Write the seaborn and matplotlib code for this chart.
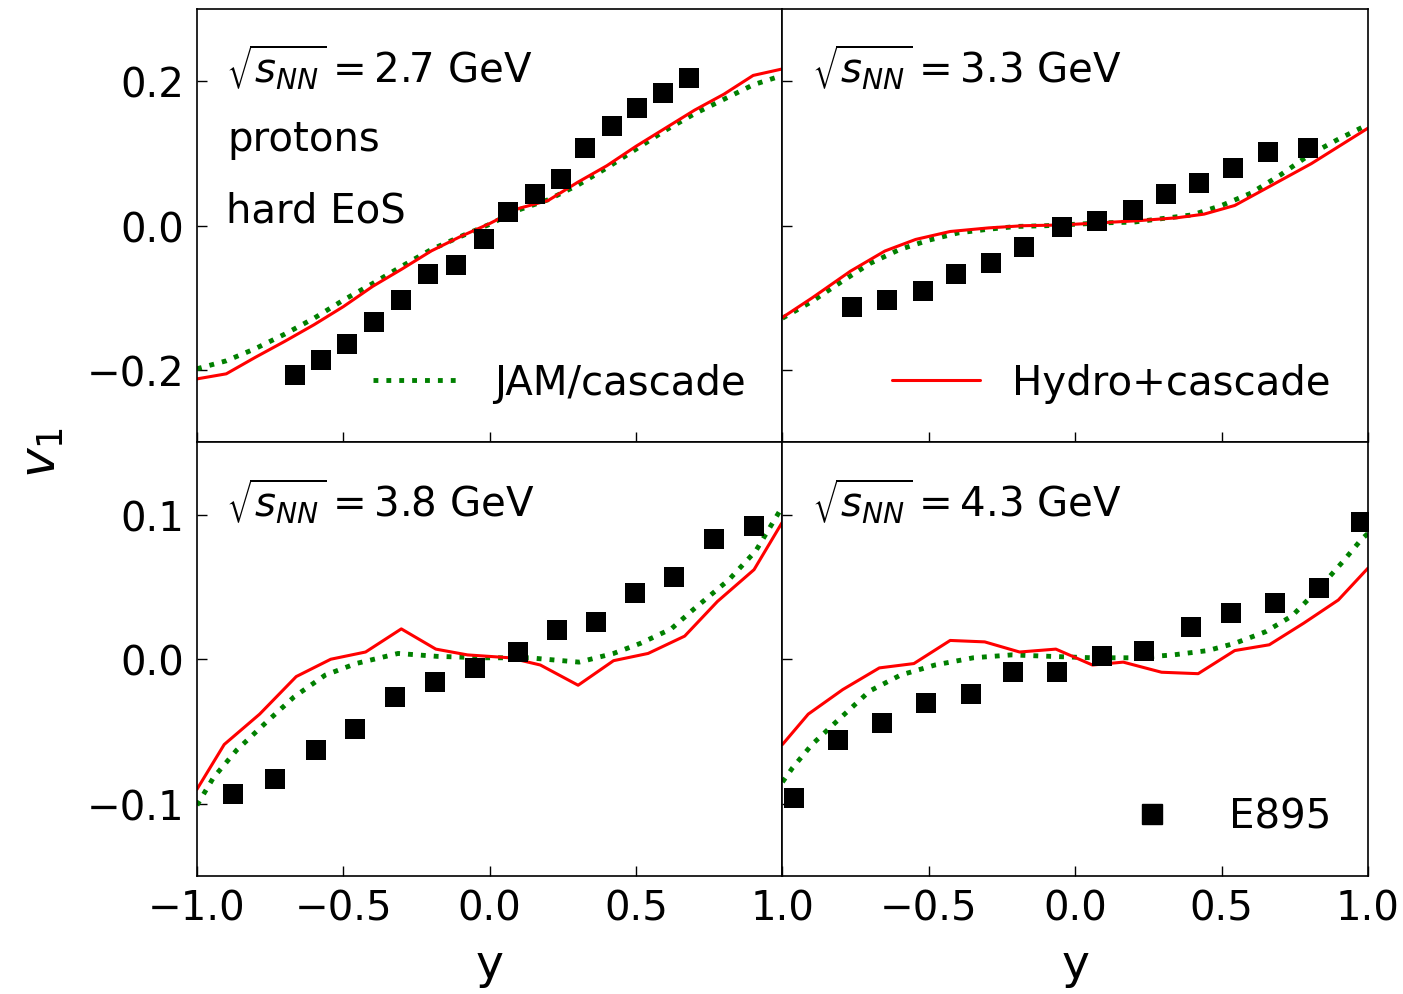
import numpy as np
import pandas as pd
import matplotlib
matplotlib.use("Agg")
import matplotlib.pyplot as plt
import seaborn as sns
from matplotlib.lines import Line2D

sns.set_style("ticks")
plt.rcParams['font.family'] = ['DejaVu Sans']
plt.rcParams['mathtext.fontset'] = 'dejavusans'
for k in ['text.color', 'axes.labelcolor', 'xtick.color', 'ytick.color', 'axes.edgecolor']:
    plt.rcParams[k] = 'black'

energies = ["2.7", "3.3", "3.8", "4.3"]

# ---- E895 data ----
e895_x_27 = [-0.665, -0.576, -0.486, -0.394, -0.302, -0.212, -0.116, -0.021, 0.063, 0.154, 0.243, 0.327, 0.418, 0.502, 0.591, 0.682]
e895_v_27 = [-0.207, -0.186, -0.164, -0.133, -0.103, -0.067, -0.054, -0.018, 0.019, 0.044, 0.064, 0.107, 0.138, 0.163, 0.184, 0.205]
e895_x_33 = [-0.764, -0.643, -0.521, -0.407, -0.287, -0.175, -0.046, 0.076, 0.197, 0.311, 0.424, 0.538, 0.659, 0.794]
e895_v_33 = [-0.113, -0.103, -0.091, -0.067, -0.051, -0.030, -0.002, 0.007, 0.022, 0.044, 0.059, 0.080, 0.102, 0.107]
e895_x_38 = [-0.878, -0.733, -0.595, -0.460, -0.323, -0.188, -0.050, 0.095, 0.229, 0.364, 0.495, 0.631, 0.767, 0.904]
e895_v_38 = [-0.093, -0.083, -0.063, -0.048, -0.026, -0.016, -0.006, 0.005, 0.020, 0.026, 0.046, 0.057, 0.083, 0.092]
e895_x_43 = [-0.962, -0.811, -0.659, -0.509, -0.357, -0.213, -0.062, 0.092, 0.236, 0.394, 0.531, 0.682, 0.833, 0.978]
e895_v_43 = [-0.096, -0.056, -0.044, -0.030, -0.024, -0.009, -0.009, 0.002, 0.006, 0.022, 0.032, 0.039, 0.049, 0.095]

# ---- JAM/cascade (green dotted) ----
jam_x_27 = [-1.0, -0.9, -0.8, -0.7, -0.6, -0.5, -0.4, -0.3, -0.2, -0.1, 0.0, 0.1, 0.2, 0.3, 0.4, 0.5, 0.6, 0.7, 0.8, 0.9, 1.0]
jam_v_27 = [-0.198, -0.187, -0.170, -0.150, -0.128, -0.103, -0.080, -0.056, -0.033, -0.015, 0.002, 0.022, 0.036, 0.056, 0.080, 0.106, 0.132, 0.155, 0.175, 0.195, 0.208]
jam_x_33 = [-1.0, -0.9, -0.8, -0.7, -0.6, -0.5, -0.4, -0.3, -0.2, -0.1, 0.0, 0.1, 0.2, 0.3, 0.4, 0.5, 0.6, 0.7, 0.8, 0.9, 1.0]
jam_v_33 = [-0.128, -0.105, -0.078, -0.052, -0.033, -0.020, -0.010, -0.005, -0.001, 0.000, 0.002, 0.004, 0.005, 0.010, 0.015, 0.028, 0.045, 0.070, 0.098, 0.120, 0.140]
jam_x_38 = [-1.0, -0.944, -0.865, -0.760, -0.668, -0.562, -0.457, -0.313, -0.181, -0.024, 0.134, 0.305, 0.423, 0.515, 0.620, 0.699, 0.817, 0.909, 0.995]
jam_v_38 = [-0.101, -0.082, -0.063, -0.043, -0.026, -0.011, -0.003, 0.004, 0.002, 0.001, 0.001, -0.002, 0.004, 0.011, 0.021, 0.035, 0.055, 0.075, 0.104]
jam_x_43 = [-1.0, -0.965, -0.899, -0.820, -0.702, -0.597, -0.479, -0.348, -0.217, -0.085, 0.059, 0.203, 0.335, 0.453, 0.545, 0.650, 0.741, 0.833, 0.912, 0.978, 1.0]
jam_v_43 = [-0.085, -0.075, -0.059, -0.044, -0.022, -0.011, -0.004, 0.001, 0.003, 0.002, 0.001, 0.001, 0.003, 0.006, 0.011, 0.019, 0.030, 0.049, 0.067, 0.083, 0.087]

# ---- Hydro+cascade (red solid) ----
hyd_x_27 = [-1.0, -0.9, -0.8, -0.7, -0.6, -0.5, -0.4, -0.3, -0.2, -0.1, 0.0, 0.1, 0.2, 0.3, 0.4, 0.5, 0.6, 0.7, 0.8, 0.9, 1.0]
hyd_v_27 = [-0.212, -0.205, -0.182, -0.160, -0.137, -0.112, -0.084, -0.060, -0.035, -0.015, 0.003, 0.024, 0.035, 0.060, 0.083, 0.110, 0.135, 0.160, 0.182, 0.208, 0.217]
hyd_x_33 = [-1.0, -0.899, -0.768, -0.650, -0.545, -0.427, -0.295, -0.177, -0.046, 0.085, 0.217, 0.348, 0.440, 0.545, 0.676, 0.807, 1.0]
hyd_v_33 = [-0.127, -0.100, -0.063, -0.035, -0.019, -0.008, -0.003, 0.000, 0.001, 0.004, 0.007, 0.011, 0.016, 0.028, 0.057, 0.086, 0.135]
hyd_x_38 = [-1.0, -0.907, -0.786, -0.661, -0.543, -0.424, -0.302, -0.184, -0.076, 0.068, 0.173, 0.302, 0.423, 0.541, 0.666, 0.778, 0.903, 1.0]
hyd_v_38 = [-0.090, -0.059, -0.038, -0.012, -0.000, 0.005, 0.021, 0.007, 0.003, 0.001, -0.004, -0.018, -0.001, 0.004, 0.016, 0.040, 0.062, 0.095]
hyd_x_43 = [-1.0, -0.912, -0.794, -0.669, -0.551, -0.427, -0.309, -0.190, -0.066, 0.059, 0.164, 0.295, 0.420, 0.545, 0.663, 0.781, 0.899, 1.0]
hyd_v_43 = [-0.059, -0.038, -0.021, -0.006, -0.003, 0.013, 0.012, 0.005, 0.007, -0.004, -0.002, -0.009, -0.010, 0.006, 0.010, 0.025, 0.041, 0.063]

panels = [
    (e895_x_27, e895_v_27, jam_x_27, jam_v_27, hyd_x_27, hyd_v_27),
    (e895_x_33, e895_v_33, jam_x_33, jam_v_33, hyd_x_33, hyd_v_33),
    (e895_x_38, e895_v_38, jam_x_38, jam_v_38, hyd_x_38, hyd_v_38),
    (e895_x_43, e895_v_43, jam_x_43, jam_v_43, hyd_x_43, hyd_v_43),
]

xticks = [-1.0, -0.5, 0.0, 0.5, 1.0]
xlabels_left = ["\u22121.0", "\u22120.5", "0.0", "0.5", "1.0"]
xlabels_right = ["", "\u22120.5", "0.0", "0.5", "1.0"]
yticks_top = [-0.2, 0.0, 0.2]
ylabels_top = ["\u22120.2", "0.0", "0.2"]
yticks_bot = [-0.1, 0.0, 0.1]
ylabels_bot = ["\u22120.1", "0.0", "0.1"]

FS = 29
fig = plt.figure(figsize=(14.03, 9.95), dpi=100)
axes = fig.subplots(2, 2)
fig.subplots_adjust(left=0.1404, right=0.975, top=0.990, bottom=0.1186, wspace=0, hspace=0)

for i, ax in enumerate(axes.flat):
    ex, ev, jx, jv, hx, hv = panels[i]
    sns.lineplot(x=jx, y=jv, ax=ax, color='green', linestyle=':', linewidth=3.5,
                 sort=False, estimator=None)
    sns.lineplot(x=hx, y=hv, ax=ax, color='red', linestyle='-', linewidth=2.2,
                 sort=False, estimator=None)
    sns.scatterplot(x=ex, y=ev, ax=ax, marker='s', color='black', s=190,
                    linewidth=0, zorder=5)
    ax.set_xlim(-1.0, 1.0)
    ax.set_xticks(xticks)
    ax.tick_params(direction='in', length=7, width=1, labelsize=FS,
                   top=False, right=False, pad=9)
    for sp in ax.spines.values():
        sp.set_linewidth(1.2)
    ax.text(0.05, 0.868, r"$\sqrt{s_{NN}}=$" + energies[i] + " GeV",
            transform=ax.transAxes, fontsize=FS, va='center', ha='left')
    ax.set_ylabel("")
    ax.set_xlabel("")
    row = i // 2
    if row == 0:
        ax.set_ylim(-0.3, 0.3)
        ax.set_yticks(yticks_top)
        ax.set_yticklabels(ylabels_top)
        ax.tick_params(labelbottom=False)
    else:
        ax.set_ylim(-0.15, 0.15)
        ax.set_yticks(yticks_bot)
        ax.set_yticklabels(ylabels_bot)
        ax.set_xticklabels(xlabels_left if i == 2 else xlabels_right)
        ax.set_xlabel("y", fontsize=34, labelpad=10)
    if i % 2 == 1:
        ax.tick_params(labelleft=False)

axes[0, 0].text(0.052, 0.70, "protons", transform=axes[0, 0].transAxes,
                fontsize=FS, va='center', ha='left')
axes[0, 0].text(0.05, 0.535, "hard EoS", transform=axes[0, 0].transAxes,
                fontsize=FS, va='center', ha='left')

fig.text(0.03, 0.545, r"$v_1$", rotation=90, fontsize=36, va='center', ha='center')

h_jam = Line2D([], [], color='green', linestyle=':', linewidth=3.5)
h_hyd = Line2D([], [], color='red', linestyle='-', linewidth=2.2)
h_e = Line2D([], [], color='black', marker='s', linestyle='none', markersize=14)
leg_kw = dict(loc='lower right', frameon=False, fontsize=FS, handlelength=2.2,
              handletextpad=0.8, borderaxespad=0.3, bbox_to_anchor=(0.985, 0.025))
axes[0, 0].legend([h_jam], ["JAM/cascade"], **leg_kw)
axes[0, 1].legend([h_hyd], ["Hydro+cascade"], **leg_kw)
axes[1, 1].legend([h_e], ["E895"], **leg_kw)

fig.savefig("out.png", dpi=100)
